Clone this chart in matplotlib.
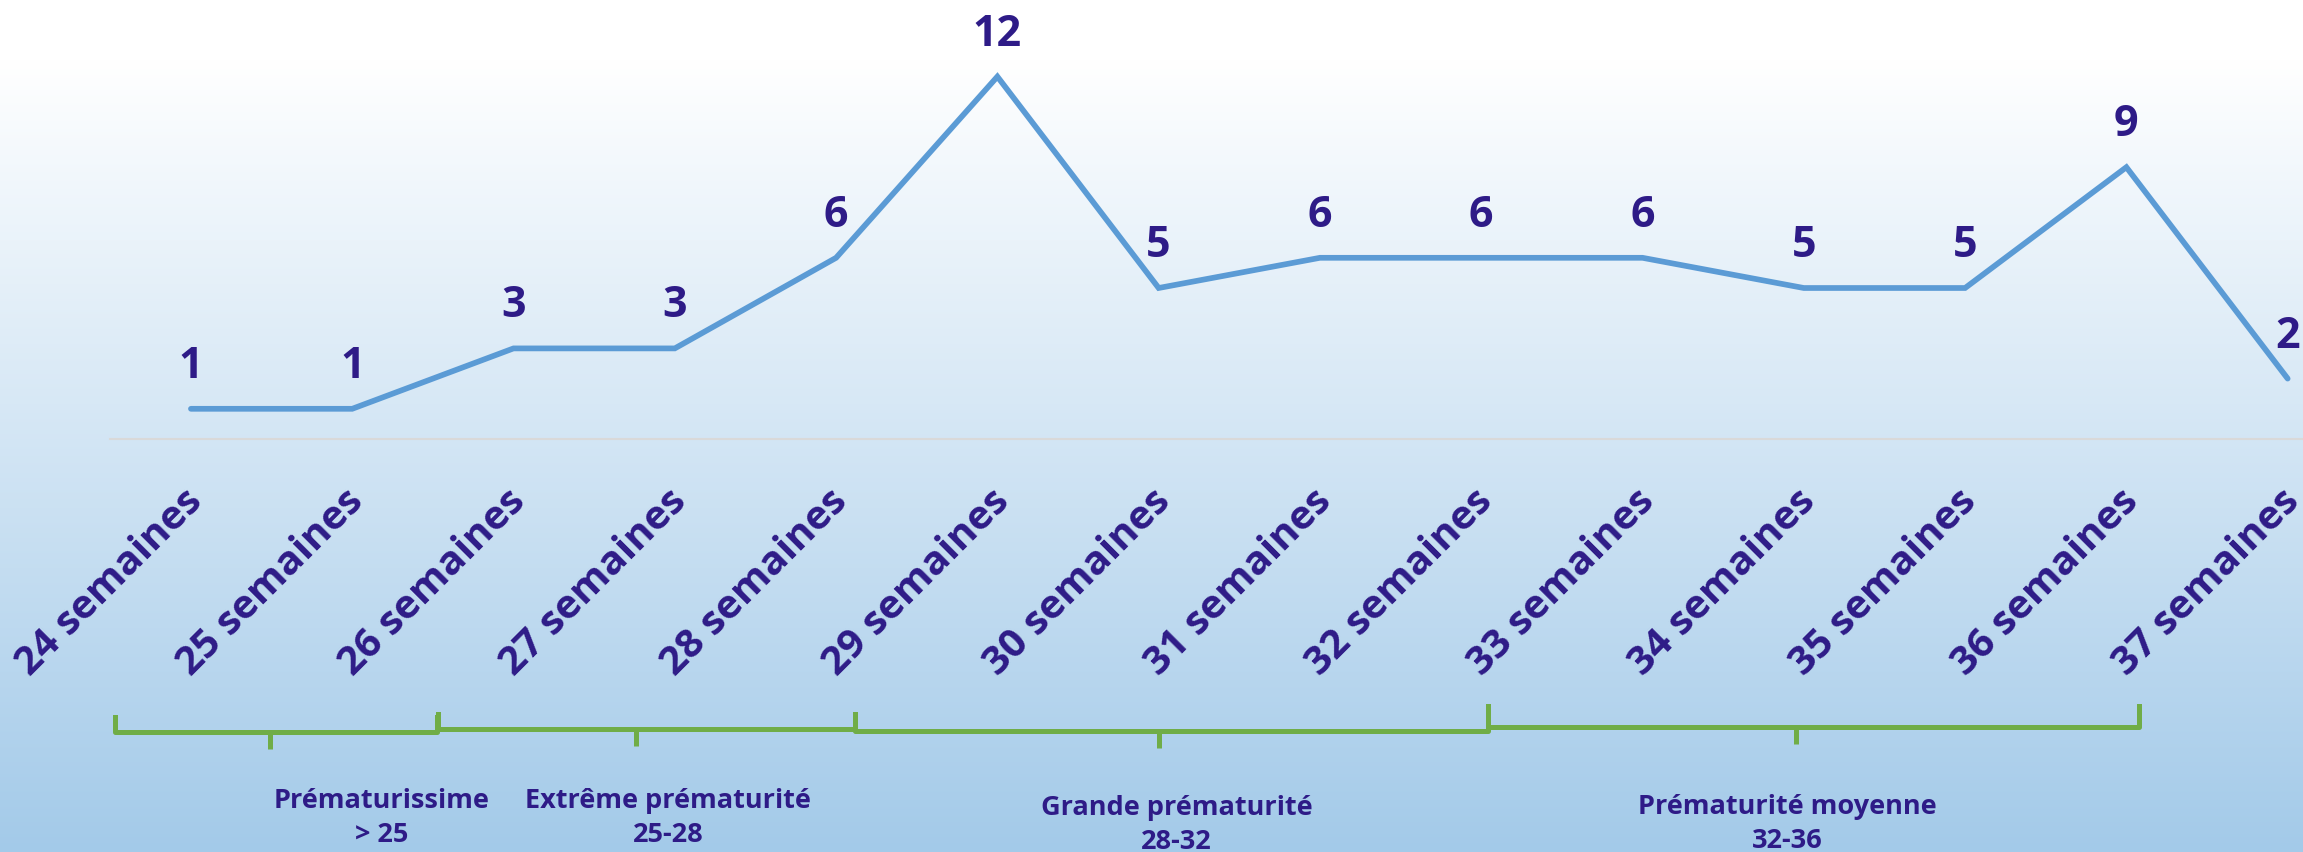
import numpy as np
import matplotlib
matplotlib.use("Agg")
import matplotlib.pyplot as plt
import matplotlib.transforms as mtransforms

# data
semaines = [24, 25, 26, 27, 28, 29, 30, 31, 32, 33, 34, 35, 36, 37]
naissances = [1, 1, 3, 3, 6, 12, 5, 6, 6, 6, 5, 5, 9, 2]
tick_labels = [f"{s} semaines" for s in semaines]

groupes = ["Prématurissime", "Extrême prématurité",
           "Grande prématurité", "Prématurité moyenne"]
groupes_bornes = ["> 25", "25-28", "28-32", "32-36"]

# bracket layout (x in category units, y in figure pixels from top)
brackets = [(-0.47, 1.525, 0.49, 732, 15),
            (1.53, 4.12, 2.76, 729, 15),
            (4.12, 8.04, 6.0, 731, 15),
            (8.04, 12.08, 9.95, 727, 21)]
# text centre x (category units), first-line baseline (px from top)
group_text_pos = [(1.18, 808), (2.96, 808), (6.11, 815), (9.9, 814)]

W, H = 2303, 852
navy = "#2E1B87"
line_blue = "#5B9BD5"
green = "#70AD47"

fig = plt.figure(figsize=(W / 100, H / 100), dpi=100)

# background gradient
bg = fig.add_axes([0, 0, 1, 1], zorder=-10)
rows = np.linspace(0, 1, H)
t = np.clip((rows * H - 60) / (H - 60), 0, 1)
top = np.array([255, 255, 255]) / 255.
bot = np.array([163, 202, 233]) / 255.
grad = top[None, :] * (1 - t[:, None]) + bot[None, :] * t[:, None]
bg.imshow(grad[:, None, :], aspect="auto", extent=[0, 1, 0, 1], origin="upper")
bg.axis("off")

ax = fig.add_axes([110.3 / W, 413 / H, 2258 / W, 392.6 / H])
ax.set_facecolor("none")
x = np.arange(len(semaines))
ax.plot(x, naissances, color=line_blue, lw=4.1, solid_capstyle="round",
        solid_joinstyle="miter", clip_on=False, zorder=3)

for xi, v in zip(x, naissances):
    ax.annotate(str(v), (xi, v), xytext=(0, 22.3), textcoords="offset points",
                ha="center", va="baseline", fontsize=31, fontweight="bold",
                family="Open Sans", color=navy, annotation_clip=False)

ax.set_xlim(-0.5, 13.5)
ax.set_ylim(0, 13)
for s in ["top", "right", "left"]:
    ax.spines[s].set_visible(False)
ax.spines["bottom"].set_color("#D9D9D9")
ax.spines["bottom"].set_linewidth(1.5)
ax.set_yticks([])
ax.set_xticks(x, tick_labels, rotation=45, ha="right", va="top",
              rotation_mode="anchor", fontsize=29, fontweight="bold",
              family="Open Sans", color=navy)
ax.tick_params(axis="x", length=0, pad=31)
shift = mtransforms.ScaledTranslation(-8 / 100, 0, fig.dpi_scale_trans)
for lab in ax.get_xticklabels():
    lab.set_transform(lab.get_transform() + shift)

# brackets below the labels
trans = mtransforms.blended_transform_factory(ax.transData, fig.transFigure)
for x0, x1, xm, yb, up in brackets:
    yl = 1 - yb / H
    ax.plot([x0, x0, x1, x1], [1 - (yb - up) / H, yl, yl, 1 - (yb - up) / H],
            color=green, lw=3.6, transform=trans, clip_on=False,
            solid_joinstyle="round")
    ax.plot([xm, xm], [yl, 1 - (yb + 17) / H], color=green, lw=3.6,
            transform=trans, clip_on=False, solid_capstyle="butt")

for name, borne, (xc, yb) in zip(groupes, groupes_bornes, group_text_pos):
    for txt, yy in [(name, yb), (borne, yb + 34)]:
        ax.text(xc, 1 - yy / H, txt, transform=trans, ha="center",
                va="baseline", fontsize=19.5, fontweight="bold",
                family="Open Sans", color=navy, clip_on=False)

fig.savefig("out.png", dpi=100)
